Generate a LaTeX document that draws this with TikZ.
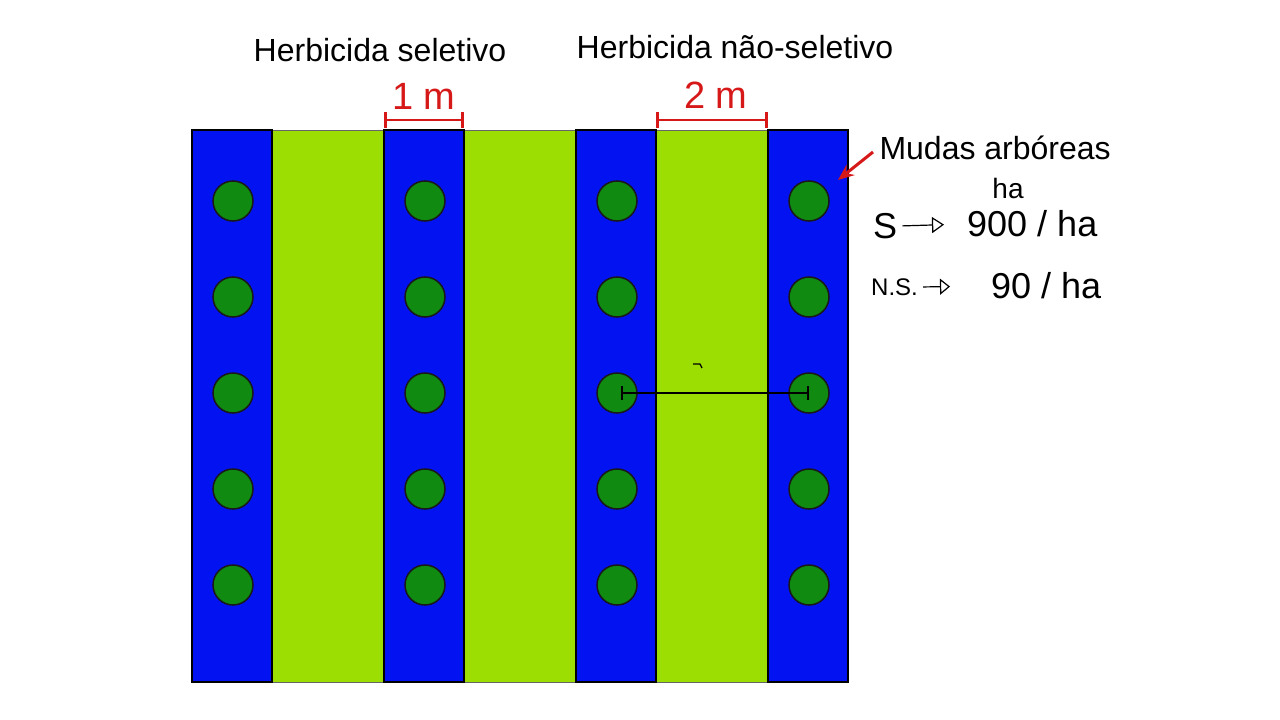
\documentclass[tikz,border=0pt]{standalone}
\usepackage{fontspec}
\setmainfont{Liberation Sans}
\usetikzlibrary{arrows.meta}
\definecolor{stripblue}{RGB}{2,18,240}
\definecolor{stripgreen}{RGB}{156,222,2}
\definecolor{mudagreen}{RGB}{16,138,16}
\definecolor{measred}{RGB}{214,24,24}
\tikzset{
	bluestrip/.style = {
		fill=stripblue,
		draw=black,
		line width=1.2pt
	},
	greenstrip/.style = {
		fill=stripgreen,
		draw=black!60,
		line width=0.8pt
	},
	muda/.style = {
		circle,
		fill=mudagreen,
		draw=black!90,
		line width=1.5pt,
		minimum size=40pt,
		inner sep=0pt
	},
	title/.style = {
		font=\fontsize{32}{36}\selectfont
	},
	measure/.style = {
		draw=measred,
		line width=2.6pt,
		{Bar[width=16pt]}-{Bar[width=16pt]}
	},
	measlabel/.style = {
		text=measred,
		font=\fontsize{38}{42}\selectfont
	},
	hand/.style = {
		font=\fontsize{36}{40}\selectfont,
		inner sep=1pt
	}
}

\begin{document}
\begin{tikzpicture}[x=1pt,y=-1pt]
	\useasboundingbox[fill=white] (0,0) rectangle (1280,720);
	% faixas verdes (entrelinhas)
	\foreach \gx in {272,464,656} {
		\draw[greenstrip] (\gx,130) rectangle ++(112,552);
	}
	% faixas azuis com as mudas
	\foreach \bx [count=\i] in {192,384,576,768} {
		\draw[bluestrip] (\bx,130) rectangle ++(80,552);
		\coordinate (tl\i) at (\bx,120);
		\coordinate (tr\i) at (\bx+80,120);
		\foreach \k in {1,...,5} {
			\node[muda] (m\i-\k) at (\bx+41,201+96*\k-96) {};
		}
	}
	% titulos
	\node[title] (sel) at (380,50) {Herbicida seletivo};
	\node[title] (nsel) at (735,47) {Herbicida não-seletivo};
	% medidas
	\draw[measure] (tl2) -- (tr2);
	\node[measlabel] (um) at (424,96) {1 m};
	\draw[measure] (tr3) -- (tl4);
	\node[measlabel] (dois) at (716,95) {2 m};
	% mudas
	\node[title, anchor=west] (mudas) at (876,148) {Mudas arbóreas};
	\coordinate (mudtip) at (838,180);
	\draw[measred, line width=3pt, -{Stealth[length=16pt,width=13pt]}] (873,152) -- (mudtip);
	% distancia entre linhas
	\draw[black, line width=1.6pt, {Bar[width=14pt]}-{Bar[width=14pt]}] ([xshift=4pt]m3-3.center) -- (m4-3.center);
	\draw[black, line width=1.2pt] (693,364) -- (700,364) -- (702,368);
	% anotacoes
	\node[hand, font=\fontsize{28}{32}\selectfont] (haup) at (1008,188) {ha};
	\node[hand, anchor=west] (s) at (872,226) {S};
	\node[hand, anchor=west] (sval) at (966,224) {900 / ha};
	\draw[line width=1.2pt, shorten <=4pt, shorten >=22pt, -{Triangle[open,length=12pt,width=16pt]}] (s.east) -- (sval.west);
	\node[hand, font=\fontsize{24}{28}\selectfont, anchor=west] (ns) at (870,287) {N.S.};
	\node[hand, anchor=west] (nsval) at (990,286) {90 / ha};
	\draw[line width=1.2pt, shorten <=4pt, shorten >=40pt, -{Triangle[open,length=10pt,width=16pt]}] (ns.east) -- (nsval.west);
\end{tikzpicture}
\end{document}
